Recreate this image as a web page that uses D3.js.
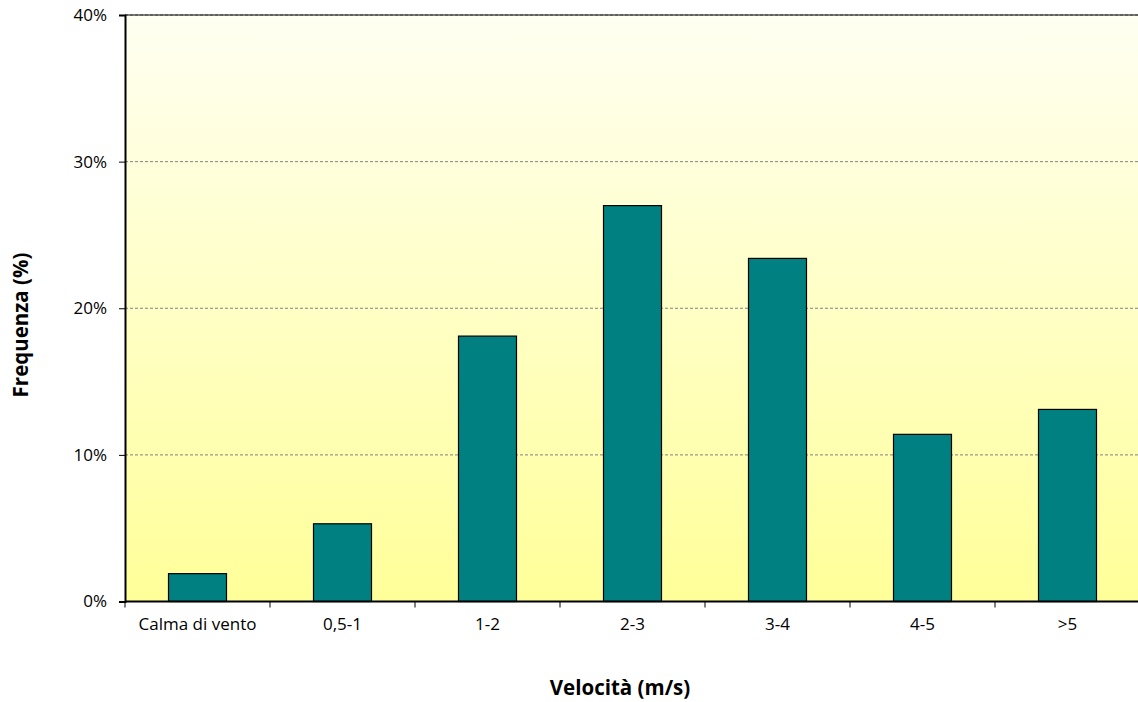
<!DOCTYPE html>
<html><head><meta charset="utf-8">
<script src="https://cdn.jsdelivr.net/npm/d3@7"></script>
<style>body{margin:0;background:#fff;}svg{display:block;font-family:"Open Sans",sans-serif;}</style>
</head><body>
<svg id="c" width="1138" height="702"></svg>
<script>
const categories = ["Calma di vento","0,5-1","1-2","2-3","3-4","4-5",">5"];
const values = [1.9, 5.3, 18.1, 27.0, 23.4, 11.4, 13.1];
const yTicks = [0, 10, 20, 30, 40];

const svg = d3.select("#c");
const L = 125, R = 1140, T = 15, B = 601.5;
const FONT = "'Open Sans', sans-serif";
const x = d3.scaleBand().domain(categories).range([L, R]).paddingInner(0.6).paddingOuter(0.3);
const y = d3.scaleLinear().domain([0, 40]).range([B, T]);

const defs = svg.append("defs");
const g = defs.append("linearGradient").attr("id","bg").attr("x1",0).attr("y1",0).attr("x2",0).attr("y2",1);
g.append("stop").attr("offset","0%").attr("stop-color","#FFFFF2");
g.append("stop").attr("offset","100%").attr("stop-color","#FFFF99");

svg.append("rect").attr("x",L).attr("y",T).attr("width",R-L).attr("height",B-T).attr("fill","url(#bg)");

svg.append("g").selectAll("line").data(yTicks.filter(d=>d>0)).join("line")
  .attr("x1",L).attr("x2",1138).attr("y1",d=>y(d)).attr("y2",d=>y(d))
  .attr("stroke","#808080").attr("stroke-width",1).attr("stroke-dasharray","3,2");
svg.append("line").attr("x1",L).attr("x2",1138).attr("y1",T).attr("y2",T).attr("stroke","#000").attr("stroke-width",1);

svg.append("g").selectAll("rect").data(values).join("rect")
  .attr("x",(d,i)=>x(categories[i])).attr("width",x.bandwidth())
  .attr("y",d=>y(d)).attr("height",d=>B-y(d))
  .attr("fill","#008080").attr("stroke","#000").attr("stroke-width",1.2);

const ya = svg.append("g").attr("transform",`translate(${L},0)`)
  .call(d3.axisLeft(y).tickValues(yTicks).tickFormat(d=>d+"%").tickSize(6).tickPadding(12));
ya.select(".domain").attr("stroke","#000").attr("stroke-width",2);
ya.selectAll("text").attr("font-size",17).attr("fill","#000").attr("font-family",FONT);

const xa = svg.append("g").attr("transform",`translate(0,${B})`)
  .call(d3.axisBottom(x).tickSize(0).tickPadding(16));
xa.select(".domain").remove();
xa.selectAll("text").attr("font-size",17).attr("fill","#000").attr("font-family",FONT);
svg.append("line").attr("x1",L).attr("x2",1138).attr("y1",B).attr("y2",B).attr("stroke","#000").attr("stroke-width",2);
const step = x.step();
const bounds = d3.range(categories.length+1).map(i=>L+i*step).filter(v=>v<1138);
svg.append("g").selectAll("line").data(bounds).join("line")
  .attr("x1",d=>d).attr("x2",d=>d).attr("y1",B).attr("y2",B+6).attr("stroke","#000").attr("stroke-width",1);

svg.append("text").attr("x",620).attr("y",695).attr("text-anchor","middle").attr("font-family",FONT)
  .attr("font-size",20.5).attr("font-weight","bold").text("Velocità (m/s)");
svg.append("text").attr("transform","translate(28,325) rotate(-90)").attr("text-anchor","middle").attr("font-family",FONT)
  .attr("font-size",20.5).attr("font-weight","bold").text("Frequenza (%)");
</script>
</body></html>
